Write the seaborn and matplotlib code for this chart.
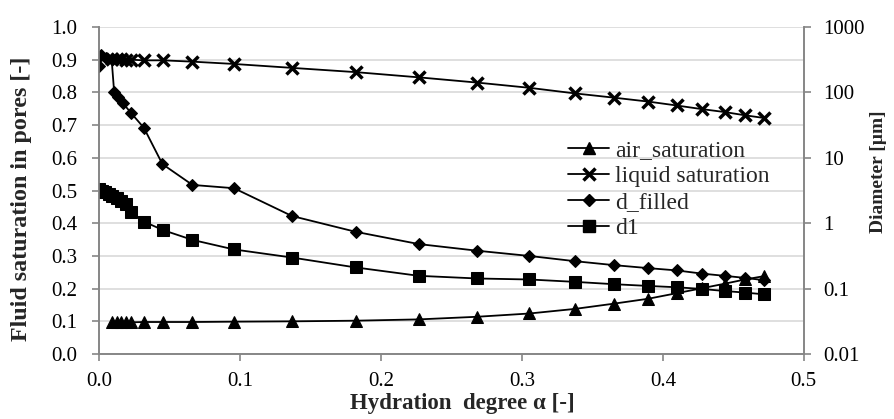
import numpy as np
import pandas as pd
import matplotlib
matplotlib.use("Agg")
import matplotlib.pyplot as plt
import seaborn as sns
from matplotlib.lines import Line2D

# ---------------- data ----------------
x_sat = [0.0087, 0.0122, 0.0152, 0.0186, 0.0226, 0.0316, 0.0452, 0.0661, 0.0954, 0.1367,
         0.1819, 0.2268, 0.2682, 0.3053, 0.3375, 0.3651, 0.3895, 0.4098, 0.4275, 0.4438,
         0.4583, 0.4715]
air_saturation = [0.097, 0.097, 0.097, 0.097, 0.097, 0.098, 0.098, 0.098, 0.099, 0.100,
                  0.102, 0.106, 0.114, 0.124, 0.138, 0.154, 0.169, 0.186, 0.201, 0.215,
                  0.228, 0.238]
liquid_saturation = [0.903, 0.902, 0.901, 0.900, 0.900, 0.898, 0.898, 0.894, 0.887, 0.875,
                     0.862, 0.846, 0.830, 0.814, 0.797, 0.784, 0.772, 0.760, 0.749, 0.740,
                     0.730, 0.722]

x_dfilled = [0.0, 0.0015, 0.005, 0.0087, 0.0105, 0.0133, 0.0169, 0.0223, 0.0316, 0.0448,
             0.0661, 0.0956, 0.1367, 0.1819, 0.2268, 0.2682, 0.3053, 0.3375, 0.3651, 0.3895,
             0.4098, 0.4275, 0.4438, 0.4583, 0.4715]
d_filled = [254, 372, 335, 324, 102, 86, 68, 49, 28.8, 8.0,
            3.85, 3.43, 1.29, 0.74, 0.48, 0.38, 0.316, 0.263, 0.229, 0.206,
            0.19, 0.17, 0.157, 0.146, 0.135]

x_d1 = [0.0, 0.002, 0.004, 0.0065, 0.0087, 0.0122, 0.0152, 0.0186, 0.0226, 0.0316, 0.0452,
        0.0661, 0.0954, 0.1367, 0.1819, 0.2268, 0.2682, 0.3053, 0.3375, 0.3651, 0.3895,
        0.4098, 0.4275, 0.4438, 0.4583, 0.4715]
d1 = [3.35, 3.16, 3.02, 2.82, 2.63, 2.40, 2.19, 2.0, 1.48, 1.06, 0.785,
      0.556, 0.398, 0.299, 0.211, 0.157, 0.143, 0.138, 0.127, 0.117, 0.110,
      0.105, 0.099, 0.092, 0.087, 0.082]

x_ticks = [0.0, 0.1, 0.2, 0.3, 0.4, 0.5]
left_ticks = [0.0, 0.1, 0.2, 0.3, 0.4, 0.5, 0.6, 0.7, 0.8, 0.9, 1.0]
right_ticks = [0.01, 0.1, 1, 10, 100, 1000]
right_tick_labels = ["0.01", "0.1", "1", "10", "100", "1000"]

# ---------------- style ----------------
sns.set_theme(style="white")
plt.rcParams['font.family'] = ['Liberation Serif', 'DejaVu Serif']

FS = 15
GRAY = "#868686"

fig = plt.figure(figsize=(8.95, 4.19), dpi=100)
ax = fig.add_axes([0.111, 0.155, 0.787, 0.7806])
ax2 = ax.twinx()

lw = 1.3
sns.lineplot(x=x_sat, y=air_saturation, ax=ax, color="black", lw=lw, marker="^",
             markersize=8, markeredgecolor="black", markerfacecolor="black")
sns.lineplot(x=x_sat, y=liquid_saturation, ax=ax, color="black", lw=lw, marker="x",
             markersize=8, markeredgewidth=2.5, markeredgecolor="black")
sns.lineplot(x=x_dfilled, y=d_filled, ax=ax2, color="black", lw=lw, marker="D",
             markersize=6.5, markeredgecolor="black", markerfacecolor="black")
sns.lineplot(x=x_d1, y=d1, ax=ax2, color="black", lw=lw, marker="s",
             markersize=9, markeredgecolor="black", markerfacecolor="black")

ax.set_xlim(0, 0.5)
ax.set_ylim(0, 1.0)
ax2.set_yscale("log")
ax2.set_ylim(0.01, 1000)

ax.set_xticks(x_ticks)
ax.set_xticklabels([f"{t:.1f}" for t in x_ticks], fontsize=FS)
ax.set_yticks(left_ticks)
ax.set_yticklabels([f"{t:.1f}" for t in left_ticks], fontsize=FS)
ax2.set_yticks(right_ticks)
ax2.set_yticklabels(right_tick_labels, fontsize=FS)
ax2.yaxis.set_minor_locator(matplotlib.ticker.NullLocator())

ax.grid(axis="y", color="#d9d9d9", lw=1.2)
ax.grid(axis="x", visible=False)
ax2.grid(False)
ax.set_axisbelow(True)

for a in (ax, ax2):
    for s in a.spines.values():
        s.set_color(GRAY)
        s.set_linewidth(1.2)
    a.spines["top"].set_visible(False)
ax.tick_params(axis="x", which="major", direction="out", length=5, width=1.2,
               color=GRAY, labelcolor="black", pad=8, bottom=True)
ax.tick_params(axis="y", which="major", direction="out", length=5, width=1.2,
               color=GRAY, labelcolor="black", pad=11, left=True)
ax2.tick_params(axis="y", which="major", direction="out", length=5, width=1.2,
                color=GRAY, labelcolor="black", pad=9, right=True)

ax.set_xlabel("Hydration  degree α [-]", fontsize=16.5, fontweight="bold")
ax.xaxis.set_label_coords(0.516, -0.118)
ax.set_ylabel("Fluid saturation in pores [-]", fontsize=17.3, fontweight="bold")
ax.yaxis.set_label_coords(-0.096, 0.474)
ax2.set_ylabel("Diameter [µm]", fontsize=14, fontweight="bold")
ax2.yaxis.set_label_coords(1.094, 0.558)

handles = [
    Line2D([], [], color="black", lw=lw, marker="^", markersize=8),
    Line2D([], [], color="black", lw=lw, marker="x", markersize=8, markeredgewidth=2.5),
    Line2D([], [], color="black", lw=lw, marker="D", markersize=6.5),
    Line2D([], [], color="black", lw=lw, marker="s", markersize=9),
]
labels = ["air_saturation", "liquid saturation", "d_filled", "d1"]
ax2.legend(handles, labels, loc="upper left", bbox_to_anchor=(568 / 895, 1 - 140 / 419),
           bbox_transform=fig.transFigure, frameon=False, fontsize=17,
           handlelength=1.75, handletextpad=0.25, labelspacing=0.18, borderpad=0,
           borderaxespad=0)

fig.savefig("out.png", dpi=100)
